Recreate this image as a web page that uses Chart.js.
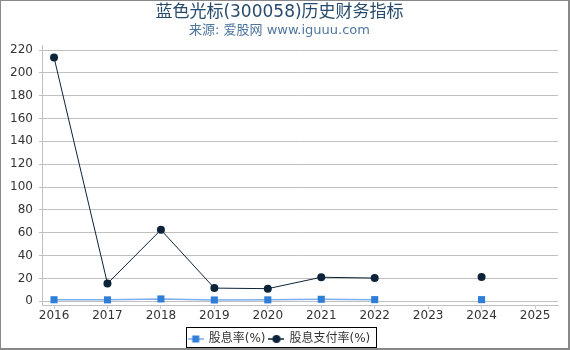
<!DOCTYPE html>
<html>
<head>
<meta charset="utf-8">
<script src="https://cdn.jsdelivr.net/npm/chart.js@4"></script>
<style>
  html, body { margin: 0; padding: 0; background: #fff; }
  #wrap { width: 570px; height: 350px; position: relative; }
</style>
</head>
<body>
<div id="wrap"><canvas id="chart" width="570" height="350"></canvas></div>
<script>
var years = [2016, 2017, 2018, 2019, 2020, 2021, 2022, 2023, 2024, 2025];
var yieldPct = [1.3, 1.2, 2.0, 1.1, 1.2, 1.7, 1.4, null, 1.4, null];
var payoutPct = [213.5, 15.5, 62.5, 11.5, 11, 21, 20.3, null, 21.3, null];
var yTicks = [0, 20, 40, 60, 80, 100, 120, 140, 160, 180, 200, 220];

var FONT = "'DejaVu Sans', 'Noto Sans CJK SC', sans-serif";

function points(vals) {
  return years.map(function (y, i) { return { x: y, y: vals[i] }; });
}

function legendIcon(color, lineColor, style) {
  var c = document.createElement('canvas');
  c.width = 16; c.height = 10;
  var g = c.getContext('2d');
  g.strokeStyle = lineColor; g.lineWidth = 1.5;
  g.beginPath(); g.moveTo(0, 5); g.lineTo(16, 5); g.stroke();
  g.fillStyle = color;
  if (style === 'rect') { g.fillRect(4.5, 1.5, 7, 7); }
  else { g.beginPath(); g.arc(8, 5, 4, 0, Math.PI * 2); g.fill(); }
  return c;
}

var frame = {
  id: 'frame',
  afterDraw: function (chart) {
    var ctx = chart.ctx;
    ctx.save();
    ctx.fillStyle = '#888';
    ctx.fillRect(0, 0, 570, 1);
    ctx.fillRect(0, 0, 1, 350);
    ctx.fillRect(568, 0, 2, 350);
    ctx.fillRect(0, 348, 570, 2);
    var boxes = chart.legend.legendHitBoxes;
    if (boxes && boxes.length) {
      var last = boxes[boxes.length - 1];
      var l = boxes[0].left - 3, r = last.left + last.width + 5;
      ctx.strokeStyle = '#000';
      ctx.lineWidth = 1;
      ctx.strokeRect(Math.round(l) + 0.5, 327.5, Math.round(r - l), 20);
    }
    ctx.restore();
  }
};

new Chart(document.getElementById('chart'), {
  type: 'line',
  data: {
    datasets: [{
      label: '股息率(%)',
      data: points(yieldPct),
      borderColor: '#7cb0ec',
      backgroundColor: '#2f7ed8',
      borderWidth: 1.5,
      pointStyle: 'rect',
      pointRadius: 5,
      pointBackgroundColor: '#2f7ed8',
      pointBorderWidth: 0,
      spanGaps: false
    }, {
      label: '股息支付率(%)',
      data: points(payoutPct),
      borderColor: '#0d233a',
      backgroundColor: '#0d233a',
      borderWidth: 1,
      pointStyle: 'circle',
      pointRadius: 4,
      pointBackgroundColor: '#0d233a',
      pointBorderWidth: 0,
      spanGaps: false
    }]
  },
  options: {
    responsive: false,
    animation: false,
    layout: { padding: { left: 1, right: 12, top: 0, bottom: -5 } },
    plugins: {
      title: {
        display: true,
        text: '蓝色光标(300058)历史财务指标',
        color: '#274b6d',
        font: { family: FONT, size: 17, weight: 'normal' },
        padding: { top: 2, bottom: 0 }
      },
      subtitle: {
        display: true,
        text: '来源: 爱股网 www.iguuu.com',
        color: '#4d759e',
        font: { family: FONT, size: 13 },
        padding: { top: 0, bottom: 7 }
      },
      legend: {
        position: 'bottom',
        labels: {
          color: '#333',
          font: { family: FONT, size: 12 },
          usePointStyle: true,
          pointStyleWidth: 14,
          padding: 4,
          generateLabels: function (chart) {
            return chart.data.datasets.map(function (ds, i) {
              return {
                text: ds.label,
                datasetIndex: i,
                fontColor: '#333',
                pointStyle: legendIcon(ds.pointBackgroundColor, ds.borderColor, ds.pointStyle),
                lineWidth: 0,
                strokeStyle: 'transparent',
                fillStyle: 'transparent'
              };
            });
          }
        }
      },
      tooltip: { enabled: false }
    },
    scales: {
      x: {
        type: 'linear',
        min: 2015.775,
        max: 2025.43,
        afterBuildTicks: function (axis) {
          axis.ticks = years.map(function (y) { return { value: y }; });
        },
        afterFit: function (axis) { axis.height = 24; },
        ticks: {
          color: '#333',
          font: { family: FONT, size: 12 },
          maxRotation: 0,
          padding: 0,
          callback: function (v) { return String(v); }
        },
        grid: { drawOnChartArea: false, drawTicks: true, tickLength: 4, color: '#c0d0e0' },
        border: { display: true, color: '#c0c0c0' }
      },
      y: {
        min: -3.3,
        max: 224.4,
        afterBuildTicks: function (axis) {
          axis.ticks = yTicks.map(function (v) { return { value: v }; });
        },
        afterFit: function (axis) { axis.width = 41; },
        ticks: {
          color: '#333',
          font: { family: FONT, size: 12 },
          padding: 6
        },
        grid: { color: '#c0c0c0', drawTicks: true, tickLength: 3 },
        border: { display: true, color: '#c0c0c0' }
      }
    }
  },
  plugins: [frame]
});
</script>
</body>
</html>
